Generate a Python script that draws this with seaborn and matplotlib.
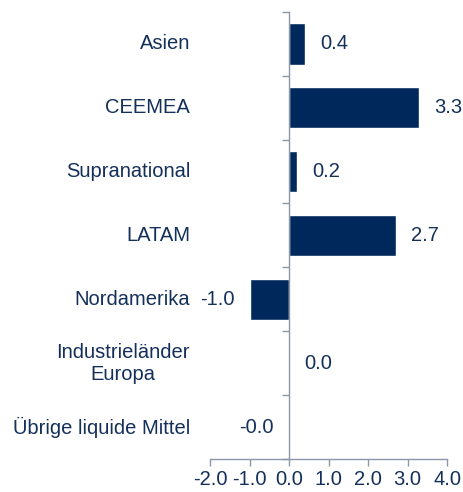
import numpy as np
import pandas as pd
import matplotlib
matplotlib.use('Agg')
import matplotlib.pyplot as plt
import matplotlib.transforms as mtransforms
import seaborn as sns

categories = ['Asien', 'CEEMEA', 'Supranational', 'LATAM', 'Nordamerika',
              'Industrieländer\nEuropa', 'Übrige liquide Mittel']
values = [0.4, 3.3, 0.2, 2.7, -1.0, 0.0, -0.0]
xticks = [-2.0, -1.0, 0.0, 1.0, 2.0, 3.0, 4.0]

bar_color = '#00285a'
text_color = '#14305a'
axis_color = '#8a97a9'

sns.set_style('white')
plt.rcParams['font.family'] = ['Liberation Sans', 'DejaVu Sans']
fs = 14.5

df = pd.DataFrame({'region': categories, 'value': values})

fig = plt.figure(figsize=(4.63, 4.92), dpi=100)
ax = fig.add_axes([0.4536, 0.067, 0.512, 0.909])

sns.barplot(data=df, x='value', y='region', orient='h', color=bar_color,
            width=0.65, saturation=1, ax=ax)

ax.set_xlim(-2.0, 4.0)
ax.set_ylim(len(categories) - 0.5, -0.5)
ax.set_xticks(xticks)
ax.set_xticklabels([f'{t:.1f}' for t in xticks], fontsize=fs, color=text_color)
ax.set_xlabel('')
ax.set_ylabel('')

# y axis sits at zero, ticks between categories
ax.spines['left'].set_position(('data', 0))
ax.spines['right'].set_visible(False)
ax.spines['top'].set_visible(False)
for s in ['left', 'bottom']:
    ax.spines[s].set_color(axis_color)
    ax.spines[s].set_linewidth(1.0)
ax.set_yticks(np.arange(len(categories) + 1) - 0.5)
ax.set_yticklabels([])
ax.tick_params(axis='y', left=True, direction='out', length=5, color=axis_color, width=1.0)
ax.tick_params(axis='x', bottom=True, direction='out', length=5, color=axis_color,
               width=1.0, pad=3)

# category labels on the far left
trans = mtransforms.blended_transform_factory(ax.transAxes, ax.transData)
for i, cat in enumerate(categories):
    ax.text(-0.084, i, cat, transform=trans, ha='right', va='center',
            fontsize=fs, color=text_color, multialignment='center')

# value labels
for i, v in enumerate(values):
    if np.signbit(v):
        ax.annotate(f'{v:.1f}', (v, i), xytext=(-11, 0), textcoords='offset points',
                    ha='right', va='center', fontsize=fs, color=text_color)
    else:
        ax.annotate(f'{v:.1f}', (v, i), xytext=(11, 0), textcoords='offset points',
                    ha='left', va='center', fontsize=fs, color=text_color)

fig.savefig('out.png', dpi=100)
